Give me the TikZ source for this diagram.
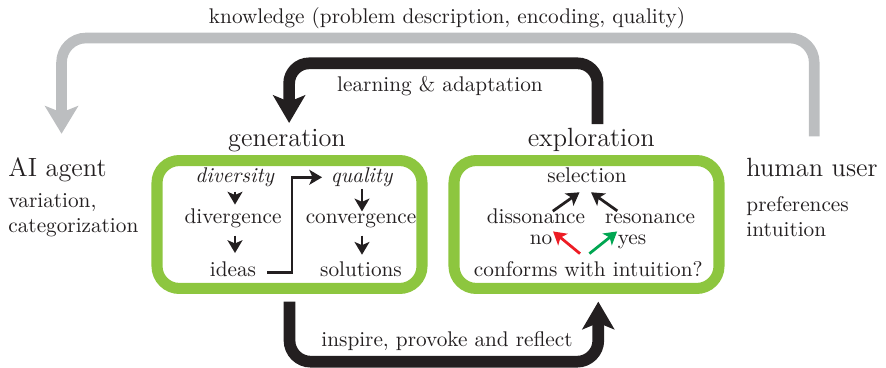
\documentclass[tikz,border=0pt]{standalone}
\usetikzlibrary{arrows.meta,calc}
\definecolor{boxgreen}{RGB}{141,198,63}
\definecolor{lgrey}{RGB}{188,190,192}
\definecolor{dk}{RGB}{35,31,32}
\definecolor{redarr}{RGB}{237,28,36}
\definecolor{greenarr}{RGB}{0,166,81}
\begin{document}
\begin{tikzpicture}[x=0.4706pt,y=-0.4706pt,
  txt/.style={text=dk,inner sep=2pt,font=\fontsize{10pt}{12pt}\selectfont},
  bigtxt/.style={text=dk,inner sep=2pt,font=\fontsize{12.4pt}{15pt}\selectfont},
  sidetxt/.style={text=dk,inner sep=0pt,anchor=base west,font=\fontsize{10pt}{12pt}\selectfont},
  sidebig/.style={text=dk,inner sep=0pt,anchor=base west,font=\fontsize{12.4pt}{15pt}\selectfont},
  stagebox/.style={draw=boxgreen,line width=5.2pt,rounded corners=10.5pt,outer sep=0pt,
    minimum width=124.7pt,minimum height=60.2pt},
  bigarr/.style={line width=5.5pt,draw=dk,-{Stealth[length=13pt,width=15pt,inset=3pt]}},
  greyarr/.style={line width=5pt,draw=lgrey,-{Stealth[length=13pt,width=15.5pt,inset=3pt]}},
  smallarr/.style={line width=1.3pt,draw=dk,-{Stealth[length=6pt,width=7pt,inset=1.5pt]}}
]
\useasboundingbox (0,0) rectangle (886,368);

% headings and side labels
\node[txt,anchor=base] (know) at (447,24) {knowledge (problem description, encoding, quality)};
\node[txt,anchor=base] (learn) at (440,91.5) {learning \& adaptation};
\node[bigtxt,anchor=base] (gen) at (287,147) {generation};
\node[bigtxt,anchor=base] (expl) at (591.2,147) {exploration};
\node[sidebig] (ai) at (8,177) {AI agent};
\node[sidetxt] (ai1) at (8,208) {variation,};
\node[sidetxt] (ai2) at (8,233) {categorization};
\node[sidebig] (human) at (746,177) {human user};
\node[sidetxt] (pref) at (746,212) {preferences};
\node[sidetxt] (intu) at (746,237) {intuition};
\node[txt,anchor=base] (insp) at (447,346.7) {inspire, provoke and reflect};

% boxes
\node[stagebox] (genbox) at (289.5,224.5) {};
\node[stagebox] (explbox) at (586.5,224.5) {};

% generation content
\node[txt,anchor=base] (diversity) at (235,182.5) {\textit{diversity}};
\node[txt,anchor=base] (divergence) at (233,224) {divergence};
\node[txt,anchor=base] (ideas) at (233,276.7) {ideas};
\node[txt,anchor=base] (quality) at (362,182.5) {\textit{quality}};
\node[txt,anchor=base] (convergence) at (361,224) {convergence};
\node[txt,anchor=base] (solutions) at (361,276.7) {solutions};

% exploration content
\node[txt,anchor=base] (selection) at (587,182.7) {selection};
\node[txt,anchor=base] (dissonance) at (536,224) {dissonance};
\node[txt,anchor=base] (resonance) at (650,224) {resonance};
\node[txt,anchor=base] (no) at (541,245) {no};
\node[txt,anchor=base] (yes) at (632,245) {yes};
\node[txt,anchor=base] (conforms) at (588.3,276.7) {conforms with intuition?};

% small arrows in generation
\draw[smallarr] (diversity.south) -- (diversity.south |- divergence.north);
\draw[smallarr] ([yshift=-1.2pt]divergence.south -| diversity.south) -- ([yshift=2pt]ideas.north -| diversity.south);
\draw[smallarr] ([yshift=1.2pt]quality.south) -- ([yshift=-0.8pt]quality.south |- convergence.north);
\draw[smallarr] ([yshift=-1.2pt]convergence.south -| quality.south) -- ([yshift=1.2pt]solutions.north -| quality.south);
\coordinate (istart) at ([xshift=3pt,yshift=-1.5pt]ideas.east);
\coordinate (qtip) at ([xshift=-2pt]quality.west);
\draw[smallarr] (istart) -| ($(qtip)+(-30,0)$) -- (qtip);

% small arrows in exploration
\draw[smallarr] ([xshift=7.9pt,yshift=-3.1pt]dissonance.north) -- ([xshift=-3.5pt,yshift=-2.2pt]selection.south);
\draw[smallarr] ([xshift=-15.4pt,yshift=-0.5pt]resonance.north) -- ([xshift=1.9pt,yshift=-2.2pt]selection.south);
\draw[smallarr,draw=redarr] ([xshift=-3.9pt,yshift=1.6pt]conforms.north) -- ([xshift=-1.8pt,yshift=-0.3pt]no.north east);
\draw[smallarr,draw=greenarr] ([xshift=0.5pt,yshift=1.6pt]conforms.north) -- ([xshift=1.9pt,yshift=-0.3pt]yes.north west);

% grey knowledge loop
\coordinate (gS) at ([xshift=1pt,yshift=10.3pt]human.north);
\coordinate (gE) at ([xshift=1.9pt,yshift=11.3pt]ai.north);
\coordinate (gY) at (0,38);
\draw[greyarr,rounded corners=11.5pt] (gS) |- (gE |- gY) -- (gE);

% black learning loop
\coordinate (bS) at ([xshift=3pt]expl.north);
\coordinate (bE) at ([xshift=1pt,yshift=1pt]gen.north);
\coordinate (bY) at (0,63.3);
\draw[bigarr,rounded corners=9.5pt] (bS) |- (bE |- bY) -- (bE);

% black inspire loop
\coordinate (iS) at ([yshift=-6.2pt]genbox.south);
\coordinate (iE) at ([xshift=5.55pt,yshift=-6.2pt]explbox.south);
\coordinate (iY) at (0,361.7);
\draw[bigarr,rounded corners=10pt] (iS) |- (iE |- iY) -- (iE);
\end{tikzpicture}
\end{document}
